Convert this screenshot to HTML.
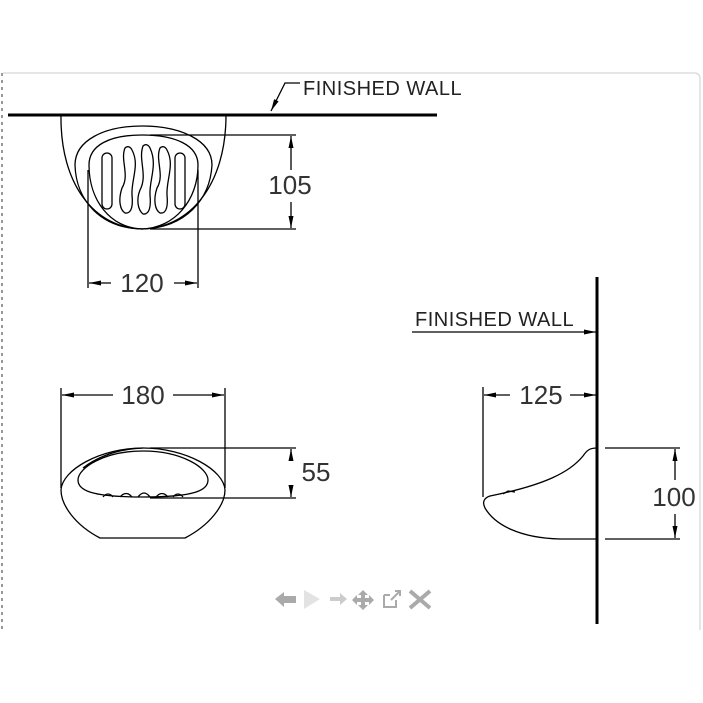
<!DOCTYPE html>
<html><head><style>
html,body{margin:0;padding:0;background:#fff;}
svg{display:block;}
text{font-family:"Liberation Sans",sans-serif;}
</style></head><body>
<svg width="703" height="703" viewBox="0 0 703 703" xmlns="http://www.w3.org/2000/svg">
<defs>
<marker id="a" markerWidth="12" markerHeight="6" refX="12" refY="3" orient="auto" markerUnits="userSpaceOnUse"><path d="M0,0.5 L12,3 L0,5.5 Z" fill="#000"/></marker>
</defs>
<!-- frame -->
<path d="M3,73 L694,73 Q700,73 700,79 L700,630" fill="none" stroke="#ddd" stroke-width="1.5"/>
<line x1="2" y1="73" x2="2" y2="630" stroke="#999" stroke-width="2" stroke-dasharray="3,4"/>
<g fill="none" stroke="#000" stroke-width="1.3">
<!-- TOP VIEW -->
<line x1="8" y1="115" x2="437" y2="115" stroke-width="3"/>
<path d="M61,115 C60,185 95,228 142,229 C190,228 226,185 226,115"/>
<path d="M142,229 C100,228 76,200 75,165 C75,140 105,126 142,126 C180,126 212,140 212,165 C210,200 185,228 142,229 Z"/>
<path d="M142,229 C110,228 89,200 89,165 C89,145 110,135 142,135 C175,135 198,145 198,165 C198,200 175,228 142,229"/>
<rect x="102" y="153" width="10" height="56" rx="5"/>
<path d="M125,148 C120,160 130,175 122,188 C118,200 120,210 125,213 C132,214 133,205 132,195 C131,180 140,165 132,150 C130,146 127,146 125,148 Z"/>
<path d="M143,146 C138,160 148,175 140,190 C136,200 138,210 143,214 C150,215 151,205 150,195 C149,180 158,165 150,148 C148,144 145,144 143,146 Z"/>
<path d="M160,148 C155,160 165,175 157,188 C153,200 155,210 160,213 C167,214 168,205 167,195 C166,180 175,165 167,150 C165,146 162,146 160,148 Z"/>
<rect x="175" y="153" width="10" height="56" rx="5"/>
<!-- 105 dim -->
<line x1="150" y1="135" x2="296" y2="135"/>
<line x1="150" y1="229" x2="296" y2="229"/>
<line x1="291" y1="170" x2="291" y2="136" marker-end="url(#a)"/>
<line x1="291" y1="202" x2="291" y2="228" marker-end="url(#a)"/>
<!-- 120 dim -->
<line x1="88" y1="170" x2="88" y2="288"/>
<line x1="198" y1="170" x2="198" y2="288"/>
<line x1="111" y1="283" x2="89" y2="283" marker-end="url(#a)"/>
<line x1="174" y1="283" x2="197" y2="283" marker-end="url(#a)"/>
<!-- leader -->
<path d="M300,83 L285,83 L271,111" marker-end="url(#a)"/>
<!-- FRONT VIEW -->
<line x1="61" y1="388" x2="61" y2="488"/>
<line x1="225" y1="388" x2="225" y2="488"/>
<line x1="113" y1="395" x2="62" y2="395" marker-end="url(#a)"/>
<line x1="173" y1="395" x2="224" y2="395" marker-end="url(#a)"/>
<path d="M143,448 C100,448 62,470 61,490 C61,505 75,525 100,538 L185,538 C210,525 225,505 225,490 C224,470 186,448 143,448 Z"/>
<path d="M143,451 C104,451 78,468 78,480 C78,490 90,497 143,497 C196,497 208,490 208,480 C208,468 182,451 143,451 Z"/>
<path d="M83,468 C100,455 120,449 143,448"/>
<path d="M103,497 Q108,491 113,497 M120,497 Q126,490 132,497 M138,497 Q144,489 150,497 M156,497 Q162,490 168,497 M173,497 Q178,491 183,497"/>
<line x1="150" y1="448" x2="296" y2="448"/>
<line x1="150" y1="498" x2="296" y2="498"/>
<line x1="291" y1="459" x2="291" y2="449" marker-end="url(#a)"/>
<line x1="291" y1="486" x2="291" y2="497" marker-end="url(#a)"/>
<!-- SIDE VIEW -->
<line x1="597" y1="277" x2="597" y2="624" stroke-width="3"/>
<line x1="412" y1="332" x2="596" y2="332" marker-end="url(#a)"/>
<line x1="483" y1="387" x2="483" y2="497"/>
<line x1="510" y1="395" x2="484" y2="395" marker-end="url(#a)"/>
<line x1="570" y1="395" x2="596" y2="395" marker-end="url(#a)"/>
<path d="M597,448 C590,448 587,450 583,456 C570,472 545,485 490,496 C484,498 482,502 485,508 C495,525 520,538 560,539 L597,539"/>
<path d="M503,494 L508,491 L515,492"/>
<line x1="605" y1="448" x2="680" y2="448"/>
<line x1="605" y1="539" x2="680" y2="539"/>
<line x1="675" y1="480" x2="675" y2="449" marker-end="url(#a)"/>
<line x1="675" y1="514" x2="675" y2="538" marker-end="url(#a)"/>
</g>
<g fill="#333" font-size="26" text-anchor="middle" dominant-baseline="central">
<text x="290" y="185">105</text>
<text x="142" y="283">120</text>
<text x="143" y="395">180</text>
<text x="316" y="472">55</text>
<text x="541" y="395">125</text>
<text x="674" y="497">100</text>
</g>
<g fill="#222" font-size="20" letter-spacing="0.5">
<text x="303" y="95">FINISHED  WALL</text>
<text x="415" y="326">FINISHED  WALL</text>
</g>
<!-- nav icons -->
<g fill="#aaa">
<path d="M275,599 L284,592 L284,596 L296,596 L296,603 L284,603 L284,607 Z"/>
<path d="M304,590 L320,599 L304,609 Z" fill="#e3e3e3"/>
<path d="M330,597 L340,597 L340,593 L347,599 L340,605 L340,601 L330,601 Z" fill="#ccc"/>
<path d="M363,590 L368,595 L365,595 L365,598 L369,598 L369,595 L374,600 L369,605 L369,602 L365,602 L365,605 L368,605 L363,610 L358,605 L361,605 L361,602 L357,602 L357,605 L352,600 L357,595 L357,598 L361,598 L361,595 L358,595 Z"/>
<path d="M384,595 L390,595 M384,595 L384,607 L396,607 L396,600" fill="none" stroke="#aaa" stroke-width="2"/>
<path d="M391,600 L399,592 M395,591 L400,591 L400,596" fill="none" stroke="#aaa" stroke-width="2"/>
<path d="M410,591 L430,608 M430,591 L410,608" stroke="#aaa" stroke-width="4"/>
</g>
</svg>
</body></html>
